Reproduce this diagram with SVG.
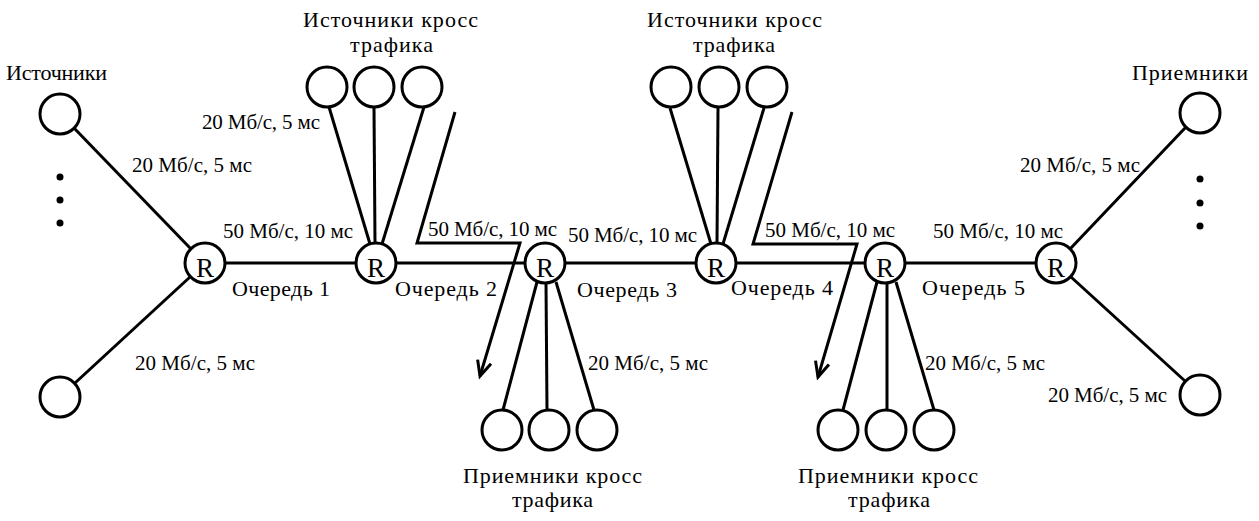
<svg xmlns="http://www.w3.org/2000/svg" width="1259" height="521" viewBox="0 0 1259 521">
<style>
.n{fill:#fff;stroke:#000;stroke-width:3}
.l{stroke:#000;stroke-width:3;fill:none}
.t{font-family:"Liberation Serif","Times New Roman",serif;font-size:21px;fill:#000}
.h{font-family:"Liberation Serif","Times New Roman",serif;font-size:22px;fill:#000}
.r{font-family:"Liberation Serif","Times New Roman",serif;font-size:27px;fill:#000;text-anchor:middle}
.d{fill:#000}
</style>
<defs>
<marker id="arr" markerUnits="userSpaceOnUse" markerWidth="24" markerHeight="24" viewBox="-18 -12 24 24" refX="0" refY="0" orient="auto">
<path d="M-15,-7 L0,0 L-15,7" fill="none" stroke="#000" stroke-width="3"/>
</marker>
</defs>
<rect width="1259" height="521" fill="#fff"/>
<g id="connectors">
<line class="l" x1="74" y1="128" x2="191" y2="249"/>
<line class="l" x1="75" y1="383" x2="190" y2="277"/>
<line class="l" x1="225" y1="263" x2="356" y2="263"/>
<line class="l" x1="396" y1="263" x2="525" y2="263"/>
<line class="l" x1="565" y1="263" x2="696" y2="263"/>
<line class="l" x1="736" y1="263" x2="865" y2="263"/>
<line class="l" x1="905" y1="263" x2="1036" y2="263"/>
<line class="l" x1="1070" y1="249" x2="1186" y2="127"/>
<line class="l" x1="1071" y1="277" x2="1185" y2="381"/>
<line class="l" x1="329" y1="107" x2="370" y2="244"/>
<line class="l" x1="374" y1="107" x2="375" y2="243"/>
<line class="l" x1="424" y1="107" x2="382" y2="244"/>
<polyline class="l" points="455,112 417,243 520,243 480,376" marker-end="url(#arr)"/>
<line class="l" x1="670" y1="108" x2="711" y2="244"/>
<line class="l" x1="718" y1="108" x2="717" y2="243"/>
<line class="l" x1="764" y1="108" x2="723" y2="244"/>
<polyline class="l" points="792,112 753,244 857,244 818,377" marker-end="url(#arr)"/>
<line class="l" x1="537" y1="282" x2="503" y2="410"/>
<line class="l" x1="546" y1="283" x2="547" y2="410"/>
<line class="l" x1="556" y1="282" x2="594" y2="410"/>
<line class="l" x1="877" y1="282" x2="843" y2="410"/>
<line class="l" x1="887" y1="283" x2="887" y2="410"/>
<line class="l" x1="896" y1="282" x2="934" y2="410"/>
</g>
<g id="sources">
<circle class="n" cx="60" cy="114" r="20"/>
<circle class="d" cx="60" cy="177" r="3.5"/>
<circle class="d" cx="60" cy="200" r="3.5"/>
<circle class="d" cx="60" cy="223" r="3.5"/>
<circle class="n" cx="60" cy="397" r="20"/>
<text class="h" x="6" y="80" textLength="101">Источники</text>
</g>
<g id="sinks">
<circle class="n" cx="1200" cy="113" r="20"/>
<circle class="d" cx="1200" cy="179" r="3.5"/>
<circle class="d" cx="1200" cy="203" r="3.5"/>
<circle class="d" cx="1200" cy="226" r="3.5"/>
<circle class="n" cx="1200" cy="395" r="20"/>
<text class="h" x="1132" y="80" textLength="116">Приемники</text>
</g>
<g id="router1"><circle class="n" cx="205" cy="263" r="20"/><text class="r" x="205" y="277">R</text></g>
<g id="router2"><circle class="n" cx="376" cy="263" r="20"/><text class="r" x="376" y="277">R</text></g>
<g id="router3"><circle class="n" cx="545" cy="263" r="20"/><text class="r" x="545" y="277">R</text></g>
<g id="router4"><circle class="n" cx="716" cy="263" r="20"/><text class="r" x="716" y="277">R</text></g>
<g id="router5"><circle class="n" cx="885" cy="263" r="20"/><text class="r" x="885" y="277">R</text></g>
<g id="router6"><circle class="n" cx="1056" cy="263" r="20"/><text class="r" x="1056" y="277">R</text></g>
<g id="cross-sources-1">
<circle class="n" cx="327" cy="87" r="20"/>
<circle class="n" cx="374" cy="87" r="20"/>
<circle class="n" cx="422" cy="87" r="20"/>
<text class="h" x="303" y="27" textLength="175">Источники кросс</text>
<text class="h" x="350" y="52" textLength="83">трафика</text>
</g>
<g id="cross-sources-2">
<circle class="n" cx="671" cy="87" r="20"/>
<circle class="n" cx="719" cy="87" r="20"/>
<circle class="n" cx="767" cy="87" r="20"/>
<text class="h" x="647" y="27" textLength="175">Источники кросс</text>
<text class="h" x="693" y="52" textLength="82">трафика</text>
</g>
<g id="cross-sinks-1">
<circle class="n" cx="502" cy="430" r="20"/>
<circle class="n" cx="549" cy="430" r="20"/>
<circle class="n" cx="597" cy="430" r="20"/>
<text class="h" x="463" y="483" textLength="179">Приемники кросс</text>
<text class="h" x="512" y="507" textLength="81">трафика</text>
</g>
<g id="cross-sinks-2">
<circle class="n" cx="838" cy="430" r="20"/>
<circle class="n" cx="886" cy="430" r="20"/>
<circle class="n" cx="934" cy="430" r="20"/>
<text class="h" x="798" y="483" textLength="180">Приемники кросс</text>
<text class="h" x="848" y="507" textLength="82">трафика</text>
</g>
<g id="labels">
<text class="t" x="132" y="172" textLength="120">20 Мб/с, 5 мс</text>
<text class="t" x="135" y="370" textLength="120">20 Мб/с, 5 мс</text>
<text class="t" x="202" y="129" textLength="118">20 Мб/с, 5 мс</text>
<text class="t" x="588" y="370" textLength="120">20 Мб/с, 5 мс</text>
<text class="t" x="925" y="370" textLength="120">20 Мб/с, 5 мс</text>
<text class="t" x="1020" y="172" textLength="120">20 Мб/с, 5 мс</text>
<text class="t" x="1048" y="402" textLength="119">20 Мб/с, 5 мс</text>
<text class="t" x="223" y="238" textLength="130">50 Мб/с, 10 мс</text>
<text class="t" x="428" y="236" textLength="129">50 Мб/с, 10 мс</text>
<text class="t" x="568" y="242" textLength="129">50 Мб/с, 10 мс</text>
<text class="t" x="765" y="237" textLength="130">50 Мб/с, 10 мс</text>
<text class="t" x="933" y="238" textLength="130">50 Мб/с, 10 мс</text>
<text class="h" x="232" y="296" textLength="98">Очередь 1</text>
<text class="h" x="395" y="296" textLength="102">Очередь 2</text>
<text class="h" x="577" y="297" textLength="100">Очередь 3</text>
<text class="h" x="731" y="295" textLength="102">Очередь 4</text>
<text class="h" x="922" y="295" textLength="103">Очередь 5</text>
</g>
</svg>
